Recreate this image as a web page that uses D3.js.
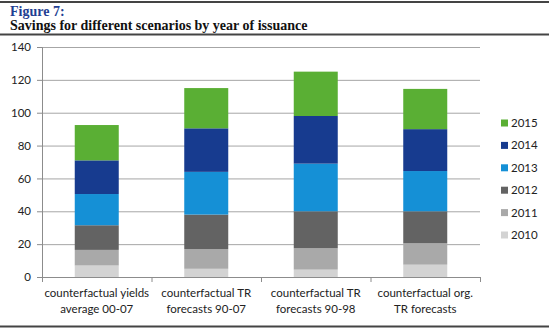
<!DOCTYPE html>
<html>
<head>
<meta charset="utf-8">
<script src="https://cdn.jsdelivr.net/npm/d3@7"></script>
<style>
  body { margin: 0; background: #fff; }
  svg text { font-family: Lato, "Open Sans", sans-serif; }
</style>
</head>
<body>
<div id="chart"></div>
<script>
var w = 549;
var h = 329;

// scenarios on the x axis, two lines each
var scenarios = ["yields", "tr9007", "tr9098", "org"];
var scenarioLabels = [
  ["counterfactual yields", "average 00-07"],
  ["counterfactual TR", "forecasts 90-07"],
  ["counterfactual TR", "forecasts 90-98"],
  ["counterfactual org.", "TR forecasts"]
];

// years of issuance, stacked bottom to top
var years = ["2010", "2011", "2012", "2013", "2014", "2015"];
var yearColors = ["#d3d3d3", "#a9a9a9", "#636363", "#1590d6", "#173b8f", "#5aaf34"];

// savings per year, one entry per scenario
var s2010 = [7, 5, 4.5, 7.5];
var s2011 = [9.5, 12, 13, 13];
var s2012 = [15, 21, 22.5, 19.5];
var s2013 = [19, 26, 29, 24.5];
var s2014 = [20.5, 26.5, 29, 25.5];
var s2015 = [21.5, 24.5, 27, 24.5];

var yTicks = [0, 20, 40, 60, 80, 100, 120, 140];

var rows = scenarios.map(function(s, i) {
  return {scenario: s, "2010": s2010[i], "2011": s2011[i], "2012": s2012[i],
          "2013": s2013[i], "2014": s2014[i], "2015": s2015[i]};
});

var svg = d3.select("#chart").append("svg")
  .attr("width", w)
  .attr("height", h);

// header rules and title
svg.append("line").attr("x1", 0).attr("x2", w).attr("y1", 2).attr("y2", 2)
  .attr("stroke", "#444").attr("stroke-width", 2);
svg.append("line").attr("x1", 0).attr("x2", w).attr("y1", 34.5).attr("y2", 34.5)
  .attr("stroke", "#444").attr("stroke-width", 2);
svg.append("line").attr("x1", 0).attr("x2", w).attr("y1", 326.5).attr("y2", 326.5)
  .attr("stroke", "#444").attr("stroke-width", 2);

svg.append("text")
  .attr("x", 10).attr("y", 16)
  .style("font-family", "'Liberation Serif', serif")
  .style("font-weight", "bold").style("font-size", "14px")
  .attr("fill", "#1f3f93")
  .text("Figure 7:");
svg.append("text")
  .attr("x", 10).attr("y", 30)
  .style("font-family", "'Liberation Serif', serif")
  .style("font-weight", "bold").style("font-size", "14px")
  .attr("fill", "#111")
  .text("Savings for different scenarios by year of issuance");

// scales
var x0 = 42, x1 = 480;
var xScale = d3.scaleBand()
  .domain(scenarios)
  .range([x0, x1])
  .paddingInner(0).paddingOuter(0);

var yScale = d3.scaleLinear()
  .domain([0, 140])
  .range([277, 47]);

// gridlines
svg.append("g")
  .selectAll("line")
  .data(yTicks.filter(function(d) { return d > 0; }))
  .enter().append("line")
  .attr("x1", x0).attr("x2", x1)
  .attr("y1", function(d) { return yScale(d) + 0.5; })
  .attr("y2", function(d) { return yScale(d) + 0.5; })
  .attr("stroke", "#a6a6a6").attr("stroke-width", 1);

// stacked bars
var stack = d3.stack().keys(years);
var series = stack(rows);
var barW = 44;

svg.append("g")
  .selectAll("g")
  .data(series)
  .enter().append("g")
  .attr("fill", function(d, i) { return yearColors[i]; })
  .selectAll("rect")
  .data(function(d) { return d; })
  .enter().append("rect")
  .attr("x", function(d) { return xScale(d.data.scenario) + xScale.bandwidth() / 2 - barW / 2; })
  .attr("y", function(d) { return yScale(d[1]); })
  .attr("width", barW)
  .attr("height", function(d) { return yScale(d[0]) - yScale(d[1]); });

// y axis
var yAxis = svg.append("g")
  .attr("transform", "translate(" + x0 + ",0)")
  .call(d3.axisLeft(yScale).tickValues(yTicks).tickSize(5).tickPadding(6));
yAxis.select(".domain").attr("stroke", "#8c8c8c");
yAxis.selectAll(".tick line").attr("stroke", "#8c8c8c");
yAxis.selectAll(".tick text")
  .style("font-size", "11.5px").attr("fill", "#222")
  .style("font-family", "Lato, sans-serif");

// x axis with ticks at band boundaries
var xAxisG = svg.append("g").attr("transform", "translate(0," + yScale(0) + ")");
xAxisG.append("line")
  .attr("x1", x0).attr("x2", x1).attr("y1", 0.5).attr("y2", 0.5)
  .attr("stroke", "#8c8c8c");
xAxisG.selectAll(".bt")
  .data(scenarios.concat(["end"]))
  .enter().append("line")
  .attr("class", "bt")
  .attr("x1", function(d, i) { return x0 + i * xScale.bandwidth() + 0.5; })
  .attr("x2", function(d, i) { return x0 + i * xScale.bandwidth() + 0.5; })
  .attr("y1", 0).attr("y2", 5)
  .attr("stroke", "#8c8c8c");

var labelG = xAxisG.selectAll(".lbl")
  .data(scenarioLabels)
  .enter().append("text")
  .attr("class", "lbl")
  .attr("text-anchor", "middle")
  .attr("x", function(d, i) { return xScale(scenarios[i]) + xScale.bandwidth() / 2; })
  .attr("y", 20)
  .style("font-size", "11.5px")
  .attr("fill", "#222");
labelG.selectAll("tspan")
  .data(function(d) { return d; })
  .enter().append("tspan")
  .attr("x", function() { return d3.select(this.parentNode).attr("x"); })
  .attr("dy", function(d, i) { return i === 0 ? 0 : 16; })
  .text(function(d) { return d; });

// legend, newest year on top
var legendYears = years.slice().reverse();
var legend = svg.append("g")
  .selectAll("g")
  .data(legendYears)
  .enter().append("g")
  .attr("transform", function(d, i) { return "translate(501," + (123 + i * 22.4) + ")"; });
legend.append("rect")
  .attr("x", 0).attr("y", -3.5)
  .attr("width", 7).attr("height", 7)
  .attr("fill", function(d) { return yearColors[years.indexOf(d)]; });
legend.append("text")
  .attr("x", 10).attr("y", 4)
  .style("font-size", "11.5px")
  .attr("fill", "#222")
  .text(function(d) { return d; });
</script>
</body>
</html>
